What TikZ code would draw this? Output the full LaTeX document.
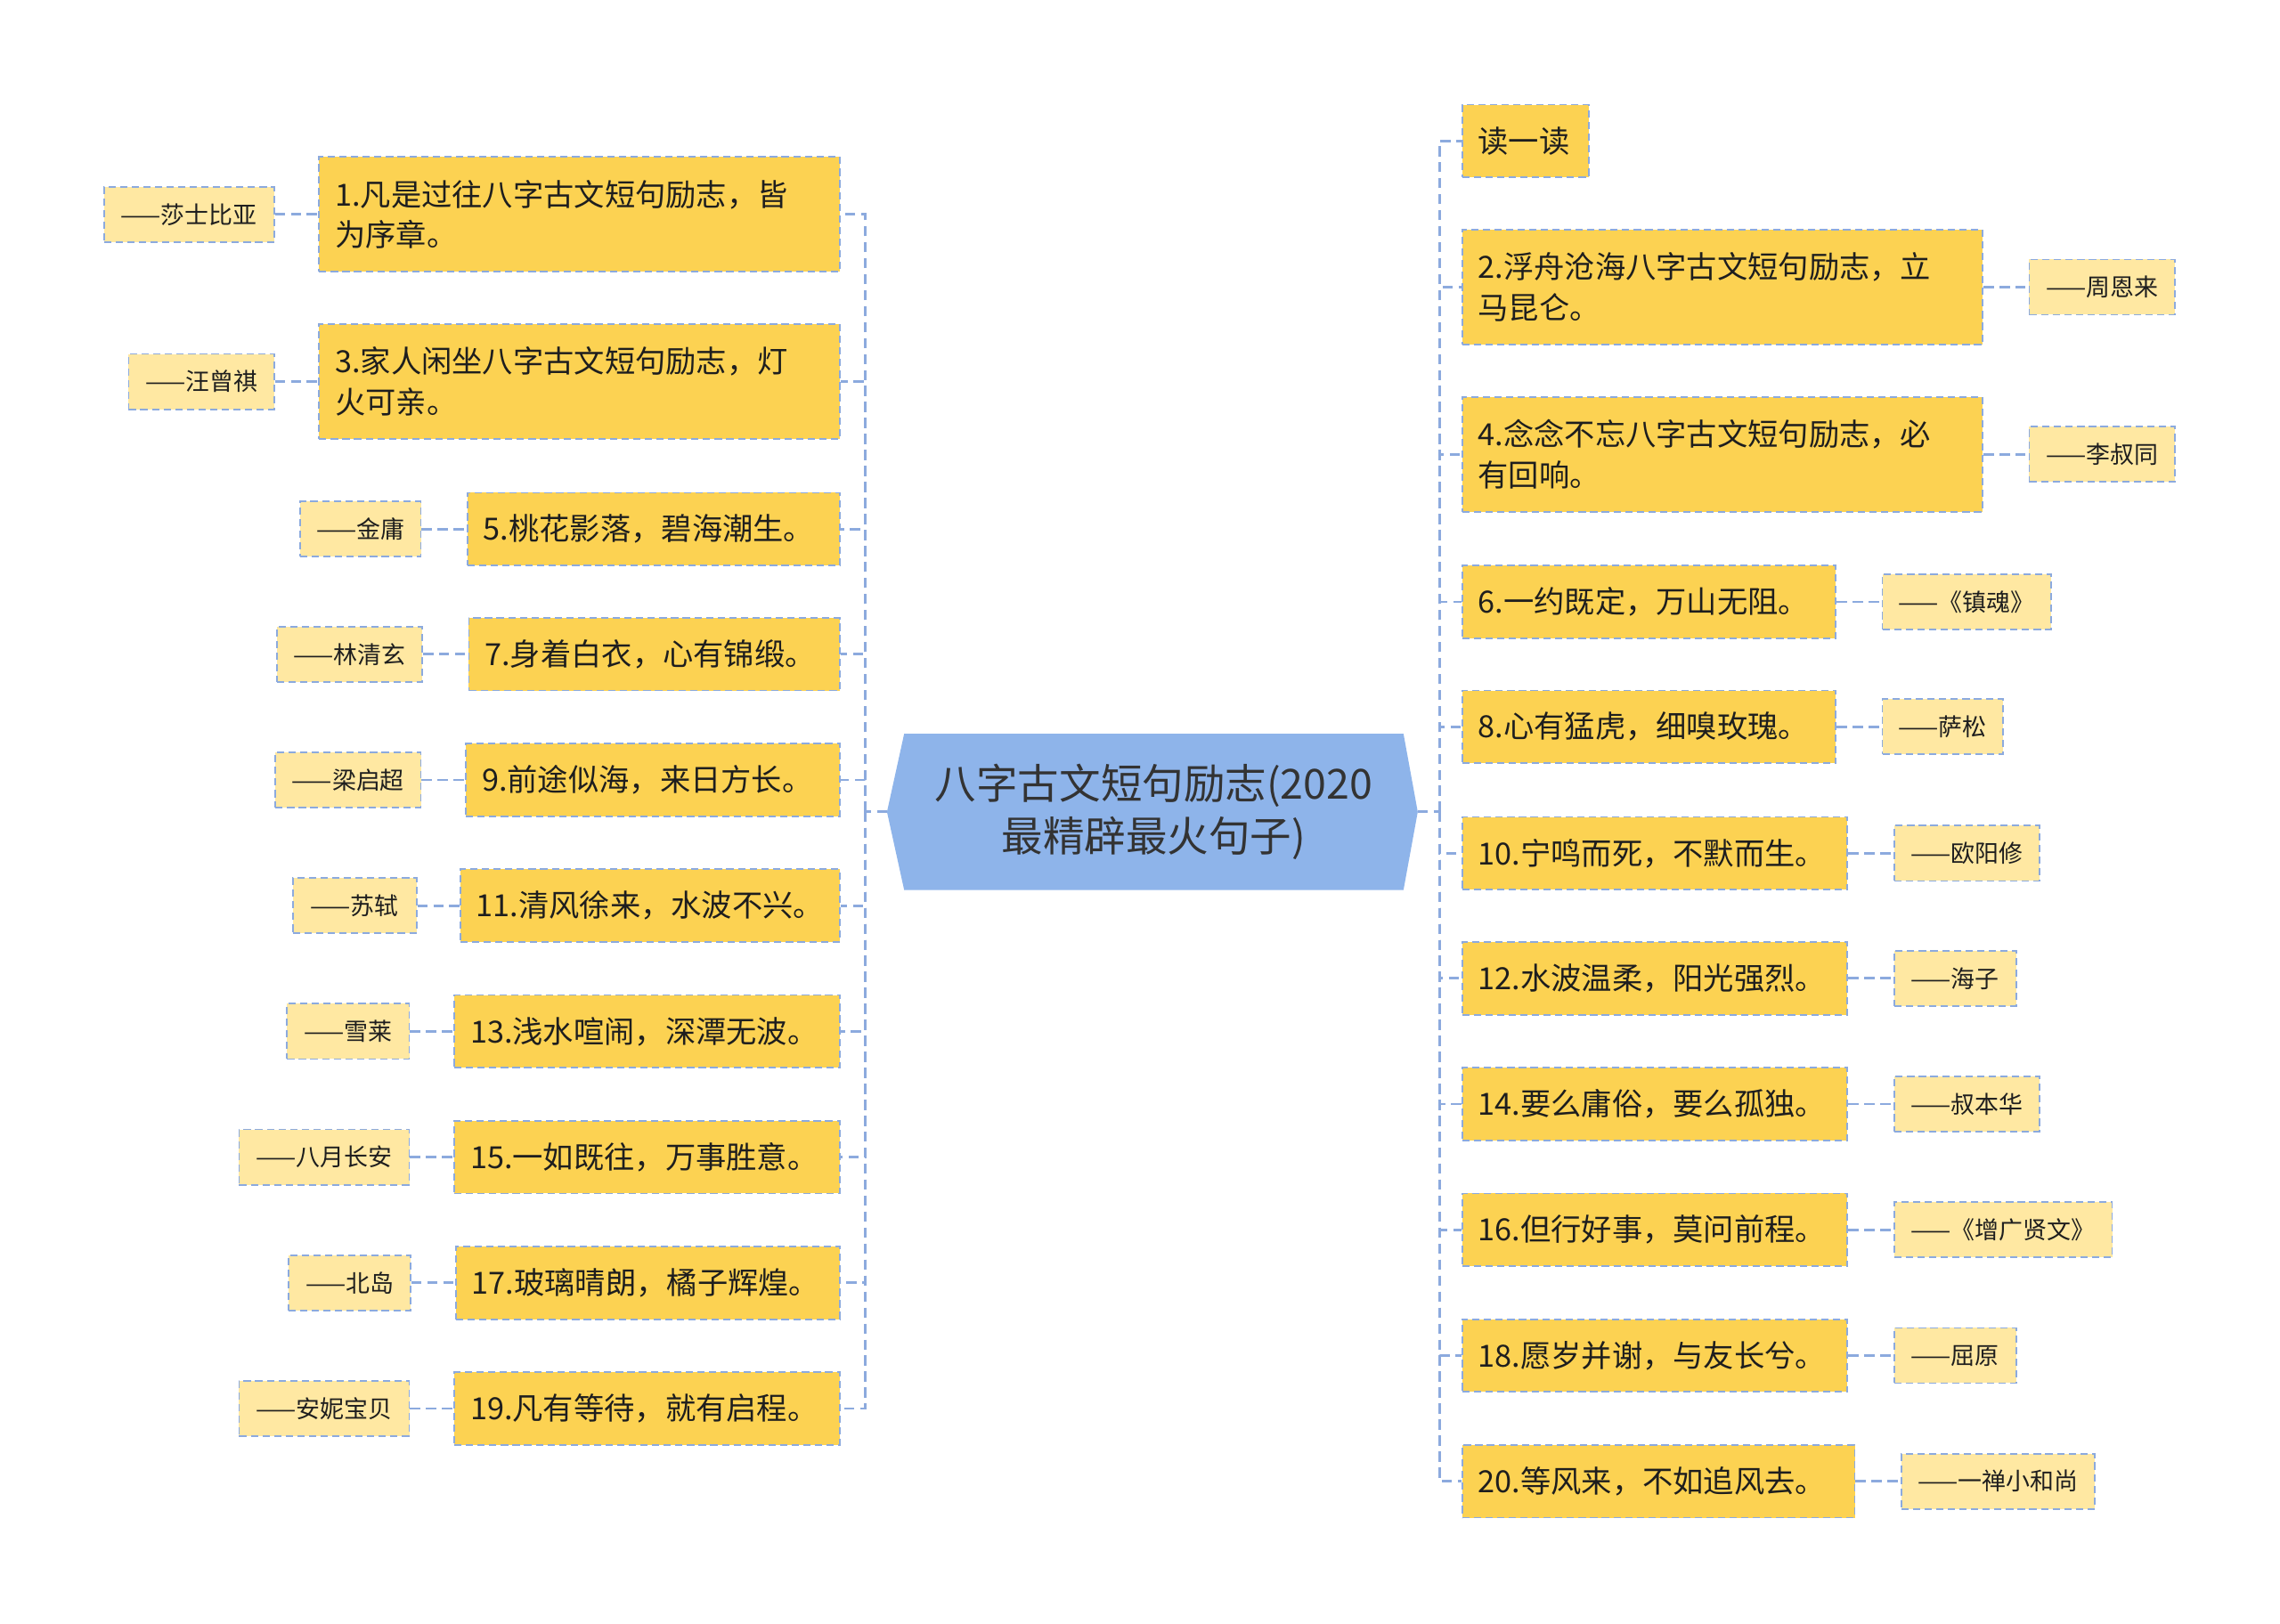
\documentclass[tikz,border=0pt]{standalone}
\usepackage{fontspec}
\setmainfont{Noto Sans CJK SC}
\definecolor{gold}{RGB}{252,210,82}
\definecolor{lightgold}{RGB}{255,232,162}
\definecolor{lineblue}{RGB}{140,170,222}
\definecolor{centerfill}{RGB}{142,180,234}
\definecolor{txt}{RGB}{30,30,30}
\definecolor{ctxt}{RGB}{51,51,51}
\newcommand\fsMain{\fontsize{21}{28}\selectfont}
\newcommand\fsAuth{\fontsize{16.5}{20}\selectfont}
\newcommand\fsCenter{\fontsize{28.5}{36}\selectfont}
\pgfdeclarelayer{bg}
\pgfsetlayers{bg,main}
\tikzset{
  mainbox/.style={draw=lineblue, dash pattern=on 5pt off 3pt, line width=1.1pt, fill=gold,
    inner xsep=11pt, inner ysep=0pt, font=\fsMain, text=txt, align=left},
  one/.style={minimum height=50pt},
  two/.style={minimum height=79pt},
  authbox/.style={draw=lineblue, dash pattern=on 5pt off 3pt, line width=1.1pt, fill=lightgold,
    inner sep=0pt, minimum height=38pt, font=\fsAuth, text=txt, align=center},
  conn/.style={draw=lineblue, line width=1.7pt, dash pattern=on 7pt off 4pt},
}
\begin{document}
\begin{tikzpicture}[x=1pt,y=-1pt]
\useasboundingbox (0,0) rectangle (1568,1117);

% center
\node[font=\fsCenter, text=ctxt, align=center, minimum width=343pt, minimum height=107pt, inner sep=0pt] (c) at (793.5,558.5) {八字古文短句励志(2020\\最精辟最火句子)};
\coordinate (cl) at (610,558.5);
\coordinate (cr) at (975,558.5);
\begin{pgfonlayer}{bg}
\fill[white] (0,0) rectangle (1568,1117);
\fill[centerfill] (c.north west) -- (c.north east) -- (cr) -- (c.south east) -- (c.south west) -- (cl) -- cycle;
\end{pgfonlayer}

% left main boxes
\node[mainbox, two, text width=336pt, anchor=east] (L1) at (578,147.5) {1.凡是过往八字古文短句励志，皆\\为序章。};
\node[mainbox, two, text width=336pt, anchor=east] (L3) at (578,262.5) {3.家人闲坐八字古文短句励志，灯\\火可亲。};
\node[mainbox, one, text width=234pt, anchor=east] (L5) at (578,364) {5.桃花影落，碧海潮生。};
\node[mainbox, one, text width=233pt, anchor=east] (L7) at (578,450) {7.身着白衣，心有锦缎。};
\node[mainbox, one, text width=235pt, anchor=east] (L9) at (578,536.5) {9.前途似海，来日方长。};
\node[mainbox, one, text width=239pt, anchor=east] (L11) at (578,623) {11.清风徐来，水波不兴。};
\node[mainbox, one, text width=243pt, anchor=east] (L13) at (578,709.5) {13.浅水喧闹，深潭无波。};
\node[mainbox, one, text width=243pt, anchor=east] (L15) at (578,796) {15.一如既往，万事胜意。};
\node[mainbox, one, text width=242pt, anchor=east] (L17) at (578,882.5) {17.玻璃晴朗，橘子辉煌。};
\node[mainbox, one, text width=243pt, anchor=east] (L19) at (578,969) {19.凡有等待，就有启程。};

% left authors
\node[authbox, minimum width=117pt, anchor=east] (A1) at (189,147.5) {——莎士比亚};
\node[authbox, minimum width=100pt, anchor=east] (A3) at (189,262.5) {——汪曾祺};
\node[authbox, minimum width=83pt, anchor=east] (A5) at (290,364) {——金庸};
\node[authbox, minimum width=100pt, anchor=east] (A7) at (291,450) {——林清玄};
\node[authbox, minimum width=100pt, anchor=east] (A9) at (290,536.5) {——梁启超};
\node[authbox, minimum width=85pt, anchor=east] (A11) at (287,623) {——苏轼};
\node[authbox, minimum width=84pt, anchor=east] (A13) at (282,709.5) {——雪莱};
\node[authbox, minimum width=117pt, anchor=east] (A15) at (282,796) {——八月长安};
\node[authbox, minimum width=84pt, anchor=east] (A17) at (283,882.5) {——北岛};
\node[authbox, minimum width=117pt, anchor=east] (A19) at (282,969) {——安妮宝贝};

% right main boxes
\node[mainbox, one, text width=65pt, anchor=west] (R0) at (1005,97) {读一读};
\node[mainbox, two, text width=336pt, anchor=west] (R2) at (1005,197.5) {2.浮舟沧海八字古文短句励志，立\\马昆仑。};
\node[mainbox, two, text width=336pt, anchor=west] (R4) at (1005,312.5) {4.念念不忘八字古文短句励志，必\\有回响。};
\node[mainbox, one, text width=235pt, anchor=west] (R6) at (1005,414) {6.一约既定，万山无阻。};
\node[mainbox, one, text width=235pt, anchor=west] (R8) at (1005,500) {8.心有猛虎，细嗅玫瑰。};
\node[mainbox, one, text width=243pt, anchor=west] (R10) at (1005,587) {10.宁鸣而死，不默而生。};
\node[mainbox, one, text width=243pt, anchor=west] (R12) at (1005,673) {12.水波温柔，阳光强烈。};
\node[mainbox, one, text width=243pt, anchor=west] (R14) at (1005,759.5) {14.要么庸俗，要么孤独。};
\node[mainbox, one, text width=243pt, anchor=west] (R16) at (1005,846) {16.但行好事，莫问前程。};
\node[mainbox, one, text width=243pt, anchor=west] (R18) at (1005,932.5) {18.愿岁并谢，与友长兮。};
\node[mainbox, one, text width=248pt, anchor=west] (R20) at (1005,1019) {20.等风来，不如追风去。};

% right authors
\node[authbox, minimum width=100pt, anchor=west] (B2) at (1395,197.5) {——周恩来};
\node[authbox, minimum width=100pt, anchor=west] (B4) at (1395,312.5) {——李叔同};
\node[authbox, minimum width=116pt, anchor=west] (B6) at (1294,414) {——《镇魂》};
\node[authbox, minimum width=83pt, anchor=west] (B8) at (1294,500) {——萨松};
\node[authbox, minimum width=100pt, anchor=west] (B10) at (1302,587) {——欧阳修};
\node[authbox, minimum width=84pt, anchor=west] (B12) at (1302,673) {——海子};
\node[authbox, minimum width=100pt, anchor=west] (B14) at (1302,759.5) {——叔本华};
\node[authbox, minimum width=150pt, anchor=west] (B16) at (1302,846) {——《增广贤文》};
\node[authbox, minimum width=84pt, anchor=west] (B18) at (1302,932.5) {——屈原};
\node[authbox, minimum width=133pt, anchor=west] (B20) at (1307,1019) {——一禅小和尚};

% trunks
\coordinate (lt) at (595,558.5);
\coordinate (rt) at (990,558.5);
\draw[conn] (cl) -- (lt);
\draw[conn] (cr) -- (rt);
\foreach \n in {L1,L3,L5,L7,L9,L11,L13,L15,L17,L19} \draw[conn] (lt) |- (\n.east);
\foreach \n in {R0,R2,R4,R6,R8,R10,R12,R14,R16,R18,R20} \draw[conn] (rt) |- (\n.west);

% author connectors
\foreach \a/\b in {A1/L1,A3/L3,A5/L5,A7/L7,A9/L9,A11/L11,A13/L13,A15/L15,A17/L17,A19/L19}
  \draw[conn] (\a.east) -- (\b.west);
\foreach \a/\b in {R2/B2,R4/B4,R6/B6,R8/B8,R10/B10,R12/B12,R14/B14,R16/B16,R18/B18,R20/B20}
  \draw[conn] (\a.east) -- (\b.west);
\end{tikzpicture}
\end{document}
